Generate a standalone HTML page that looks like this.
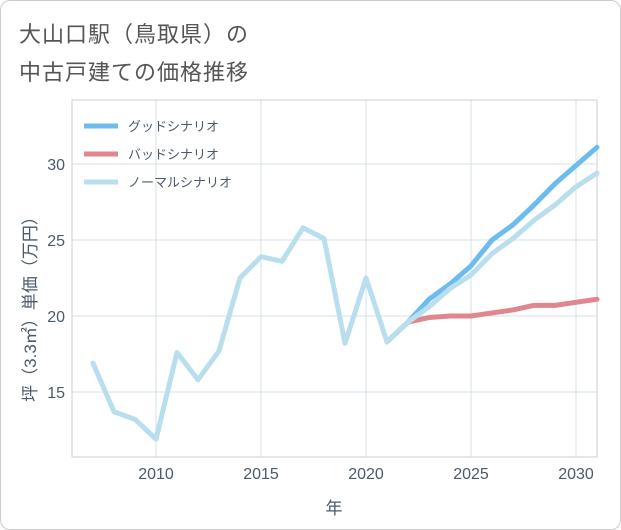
<!DOCTYPE html>
<html><head><meta charset="utf-8"><style>
body{margin:0;background:#fff;font-family:"Liberation Sans","Noto Sans CJK JP",sans-serif;}
#wrap{position:relative;width:619px;height:528px;border:1px solid #ccc;border-radius:10px;overflow:hidden;background:#fff}
.title{position:absolute;left:18px;font-size:22px;color:#555;letter-spacing:1px}
svg text{font-family:"Liberation Sans","Noto Sans CJK JP",sans-serif}
</style></head><body>
<div id="wrap">
<div class="title" style="top:16px">大山口駅（鳥取県）の</div>
<div class="title" style="top:54px">中古戸建ての価格推移</div>
<svg id="chart" width="621" height="530" style="position:absolute;left:-1px;top:-1px"></svg>
</div>
<script>
const years=[2007,2008,2009,2010,2011,2012,2013,2014,2015,2016,2017,2018,2019,2020,2021,2022,2023,2024,2025,2026,2027,2028,2029,2030,2031];
const normalVals=[16.9,13.7,13.2,11.9,17.6,15.8,17.7,22.5,23.9,23.6,25.8,25.1,18.2,22.5,18.3,19.6,20.6,21.8,22.7,24.1,25.1,26.3,27.3,28.5,29.4];
const goodYears=[2021,2022,2023,2024,2025,2026,2027,2028,2029,2030,2031];
const goodVals=[18.3,19.6,21.1,22.1,23.3,25.0,26.0,27.3,28.7,29.9,31.1];
const badVals=[18.3,19.6,19.9,20.0,20.0,20.2,20.4,20.7,20.7,20.9,21.1];
const xTicks=[2010,2015,2020,2025,2030];
const yTicks=[15,20,25,30];
const X0=72,X1=597,Y0=100,Y1=457;
const xs=v=>156+(v-2010)*21;
const ys=v=>316-(v-20)*15.2;
const svg=document.getElementById('chart');
const NS='http://www.w3.org/2000/svg';
function mk(t,a){const e=document.createElementNS(NS,t);for(const k in a)e.setAttribute(k,a[k]);svg.appendChild(e);return e;}
xTicks.forEach(t=>{
 const l=mk('line',{x1:xs(t),x2:xs(t),y1:Y0,y2:Y1,stroke:'#d5e0e8','stroke-width':1});
 
 
 const tx=mk('text',{x:xs(t),y:479,'text-anchor':'middle','font-size':16,fill:'#4a5a6a'});tx.textContent=t;
 
 
});
yTicks.forEach(t=>{
 const l=mk('line',{x1:X0,x2:X1,y1:ys(t),y2:ys(t),stroke:'#d5e0e8','stroke-width':1});
 
 
 const tx=mk('text',{x:65,y:ys(t)+6,'text-anchor':'end','font-size':16,fill:'#4a5a6a'});tx.textContent=t;
 
 
});
const box=mk('rect',{x:X0,y:Y0,width:X1-X0,height:Y1-Y0,fill:'none',stroke:'#c8d2da','stroke-width':1});


function line(xv,yv,color,name){
 const p=mk('polyline',{points:xv.map((x,i)=>xs(x)+','+ys(yv[i])).join(' '),fill:'none',stroke:color,'stroke-width':5,'stroke-linejoin':'round','stroke-linecap':'round'});
 
 
}
line(goodYears,badVals,'#e0868f','bad-scenario-line');
line(goodYears,goodVals,'#6cbcf0','good-scenario-line');
line(years,normalVals,'#b9dfee','normal-scenario-line');
const leg=[['グッドシナリオ','#6cbcf0',126],['バッドシナリオ','#e0868f',154],['ノーマルシナリオ','#b9dfee',182]];
leg.forEach(([n,c,y])=>{
 const l=mk('line',{x1:84,x2:118,y1:y,y2:y,stroke:c,'stroke-width':5});
 
 
 const t=mk('text',{x:128,y:y+5,'font-size':13,fill:'#4a5a6a'});t.textContent=n;
 
 
});
const xt=mk('text',{x:334,y:514,'text-anchor':'middle','font-size':17,fill:'#4a5a6a'});xt.textContent='年';


const yt=mk('text',{x:0,y:0,'text-anchor':'middle','font-size':17,fill:'#4a5a6a',transform:'translate(36,305) rotate(-90)'});yt.textContent='坪（3.3㎡）単価（万円）';


</script>
</body></html>
